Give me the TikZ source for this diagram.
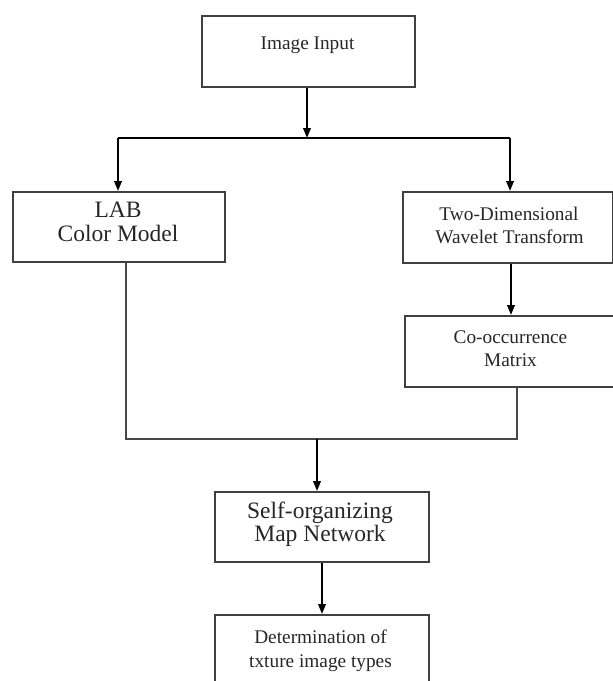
\documentclass[tikz,border=0pt]{standalone}
\usepackage{fontspec}
\setmainfont{Liberation Serif}
\usetikzlibrary{arrows.meta}
\tikzset{
  box/.style={draw=black!75, line width=1.8pt, rectangle, inner sep=0pt, anchor=north west},
  conn/.style={draw=black, line width=2pt},
  arr/.style={conn, -{Triangle[length=10pt,width=7.5pt]}},
  merge/.style={draw=black!72, line width=1.7pt},
  small/.style={font=\fontsize{19.3}{23}\selectfont, anchor=base, inner sep=0pt, text=black!85},
  large/.style={font=\fontsize{23.5}{24}\selectfont, anchor=base, inner sep=0pt, text=black!85},
}
\begin{document}
\begin{tikzpicture}[x=1pt,y=-1pt]
\useasboundingbox (0,0) rectangle (613,681);
\clip (0,0) rectangle (613,681);
% boxes
\node[box, minimum width=213pt, minimum height=71pt] (inp) at (201,15) {};
\node[box, minimum width=212pt, minimum height=70pt] (lab) at (12,191) {};
\node[box, minimum width=210pt, minimum height=71pt] (two) at (402,191) {};
\node[box, minimum width=216pt, minimum height=71pt] (co) at (404,315) {};
\node[box, minimum width=214pt, minimum height=70pt] (som) at (214,491) {};
\node[box, minimum width=214pt, minimum height=90pt] (det) at (214,614) {};
% texts
\node[small] (tinp) at (307.5,49) {Image Input};
\node[large] (tlab1) at (118,217) {LAB};
\node[large] (tlab2) at (118,241) {Color Model};
\node[small] (ttwo1) at (509,220) {Two-Dimensional};
\node[small] (ttwo2) at (509.5,243) {Wavelet Transform};
\node[small] (tco1) at (510.5,343) {Co-occurrence};
\node[small] (tco2) at (510.5,366) {Matrix};
\node[large] (tsom1) at (320,518) {Self-organizing};
\node[large] (tsom2) at (320,541) {Map Network};
\node[small] (tdet1) at (320.5,643) {Determination of};
\node[small] (tdet2) at (320.5,667) {txture image types};
% split
\coordinate (sp) at (307,138);
\coordinate (spl) at (118,138);
\coordinate (spr) at (510,138);
\draw[arr] (inp.south -| sp) -- (sp);
\draw[conn] (spl) -- (spr);
\draw[arr] (spl) -- (lab.north -| spl);
\draw[arr] (spr) -- (two.north -| spr);
% two -> co
\coordinate (tc) at (511,0);
\draw[arr] (two.south -| tc) -- (co.north -| tc);
% merge
\coordinate (m1) at (126,439);
\coordinate (m2) at (517,439);
\draw[merge] (lab.south -| m1) -- (m1) -- (m2) -- (co.south -| m2);
\coordinate (mm) at (317,439);
\draw[arr] (mm) -- (som.north -| mm);
% som -> det
\coordinate (sd) at (322,0);
\draw[arr] (som.south -| sd) -- (det.north -| sd);
\end{tikzpicture}
\end{document}
